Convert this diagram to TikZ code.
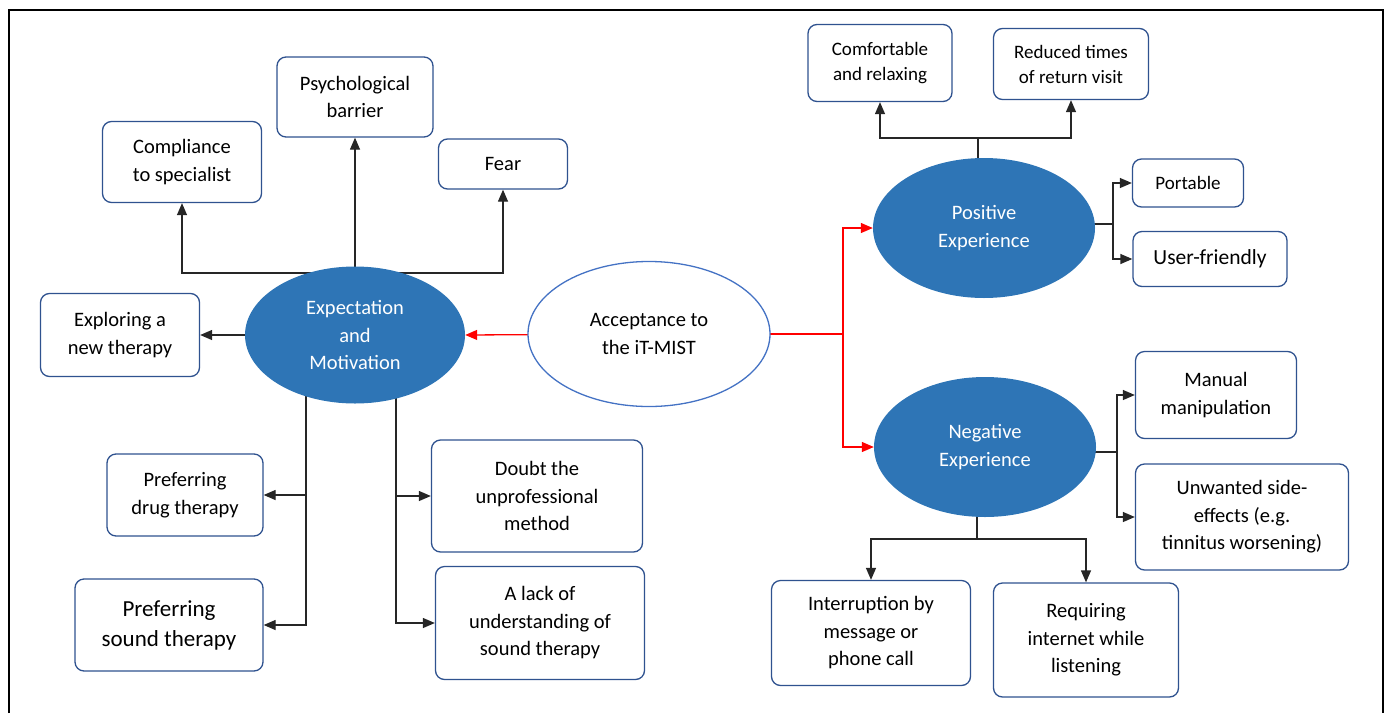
\documentclass[tikz,border=0pt]{standalone}
\usepackage{fontspec}
\setmainfont{Carlito}
\usepackage{tikz}
\usetikzlibrary{shapes.geometric}
\usetikzlibrary{arrows.meta}
\usetikzlibrary{backgrounds}
\definecolor{boxline}{HTML}{2F528F}
\definecolor{topicfill}{HTML}{2E75B6}
\definecolor{accline}{HTML}{4472C4}
\tikzset{
  box/.style={draw=boxline, line width=1.3pt, rounded corners=9pt, fill=white,
    align=center, inner sep=0pt, font=\fontsize{20.5}{27.5}\selectfont},
  topic/.style={ellipse, fill=topicfill, text=white, align=center, inner sep=0pt,
    minimum width=222pt, minimum height=140pt, font=\fontsize{20.5}{27.5}\selectfont},
  link/.style={draw=black!85, line width=1.3pt},
  arr/.style={link, -{Triangle[width=10pt,length=12pt]}},
  redlink/.style={draw=red, line width=1.3pt},
  redarr/.style={redlink, -{Triangle[width=10pt,length=12pt]}},
}
\begin{document}
\begin{tikzpicture}[x=1pt,y=-1pt]
  \useasboundingbox (0,0) rectangle (1385,713);
  \draw [line width=2pt] (9,713) -- (9,10) -- (1383,10) -- (1383,713);
  % central ellipses
  \node [ellipse, draw=accline, line width=1.3pt, fill=white, align=center,
    minimum width=242pt, minimum height=145pt, font=\fontsize{20.5}{27.5}\selectfont]
    (acc) at (649,334) {Acceptance to\\the iT-MIST};
  \node [topic, minimum width=220pt, minimum height=137pt] (exp) at (355,335)
    {Expectation\\and\\Motivation};
  \node [topic] (pos) at (984,228) {Positive\\Experience};
  \node [topic] (neg) at (985,447) {Negative\\Experience};
  % left side
  \node [box, minimum width=156pt, minimum height=80pt] (psych) at (355,97) {Psychological\\barrier};
  \node [box, minimum width=159pt, minimum height=81pt] (comp) at (182,162) {Compliance\\to specialist};
  \node [box, minimum width=129pt, minimum height=50pt] (fear) at (503,164) {Fear};
  \node [box, minimum width=159pt, minimum height=83pt] (explore) at (120,335) {Exploring a\\new therapy};
  \node [box, minimum width=156pt, minimum height=82pt] (drug) at (185,495) {Preferring\\drug therapy};
  \node [box, minimum width=188pt, minimum height=92pt, font=\fontsize{23}{30}\selectfont]
    (sound) at (169,625) {Preferring\\sound therapy};
  \node [box, minimum width=211pt, minimum height=112pt] (doubt) at (537,496) {Doubt the\\unprofessional\\method};
  \node [box, minimum width=209pt, minimum height=113pt] (lack) at (540,623) {A lack of\\understanding of\\sound therapy};
  % right side
  \node [box, minimum width=144pt, minimum height=77pt, font=\fontsize{19}{25}\selectfont]
    (comf) at (880,63) {Comfortable\\and relaxing};
  \node [box, minimum width=155pt, minimum height=71pt, font=\fontsize{19}{25}\selectfont]
    (reduced) at (1071,64) {Reduced times\\of return visit};
  \node [box, minimum width=111pt, minimum height=48pt, font=\fontsize{19}{25}\selectfont]
    (port) at (1188,183) {Portable};
  \node [box, minimum width=154pt, minimum height=55pt, font=\fontsize{21.5}{27}\selectfont]
    (user) at (1210,259) {User-friendly};
  \node [box, minimum width=161pt, minimum height=87pt] (manual) at (1216,395) {Manual\\manipulation};
  \node [box, minimum width=213pt, minimum height=106pt] (unw) at (1242,517) {Unwanted side-\\effects (e.g.\\tinnitus worsening)};
  \node [box, minimum width=199pt, minimum height=105pt] (inter) at (871,633) {Interruption by\\message or\\phone call};
  \node [box, minimum width=185pt, minimum height=114pt] (req) at (1086,640) {Requiring\\internet while\\listening};
  % connectors
  \begin{pgfonlayer}{background}
    \coordinate (et) at (355,273);
    \draw [arr] (et) -| (comp.south);
    \draw [arr] (et) -| (fear.south);
    \draw [arr] (exp.center) -- (psych.south);
    \draw [arr] (exp.center) -- (explore.east |- exp.center);
    \coordinate (el) at (306,335);
    \draw [arr] (el) |- (drug.east);
    \draw [arr] (el) |- (sound.east);
    \coordinate (er) at (396,335);
    \draw [arr] (er) |- (doubt.west);
    \draw [arr] (er) |- (lack.west);
    \draw [redarr] (acc.center) -- (exp.east);
    \coordinate (rj) at (843,334);
    \draw [redlink] (acc.center) -- (rj);
    \draw [redarr] (rj) |- (pos.west);
    \draw [redarr] (rj) |- (neg.west);
    \coordinate (pt) at (978,138);
    \draw [link] (pt) -- (pt |- pos.center);
    \draw [arr] (pt) -| (comf.south);
    \draw [arr] (pt) -| (reduced.south);
    \coordinate (pr) at (1113,224);
    \draw [link] (pos.center |- pr) -- (pr);
    \draw [arr] (pr) |- (port.west);
    \draw [arr] (pr) |- (user.west);
    \coordinate (nr) at (1117,452);
    \draw [link] (neg.center |- nr) -- (nr);
    \draw [arr] (nr) |- (manual.west);
    \draw [arr] (nr) |- (unw.west);
    \coordinate (nb) at (977,539);
    \draw [link] (nb) -- (nb |- neg.center);
    \draw [arr] (nb) -| (inter.north);
    \draw [arr] (nb) -| (req.north);
  \end{pgfonlayer}
\end{tikzpicture}
\end{document}
